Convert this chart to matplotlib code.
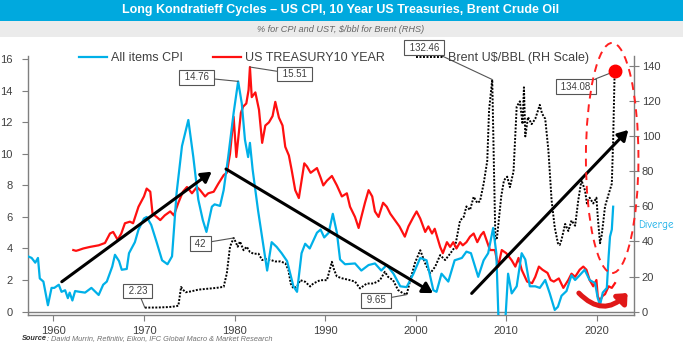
import matplotlib
matplotlib.use("Agg")
import matplotlib.pyplot as plt
from matplotlib.patches import Ellipse, FancyArrowPatch, Rectangle
import numpy as np

plt.rcParams['font.family'] = ['Liberation Sans', 'DejaVu Sans']

# ---------------- data ----------------
cpi_t = [1957.2,1957.6,1958.0,1958.3,1958.5,1958.9,1959.4,1959.8,1960.1,1960.6,1960.9,1961.3,1961.6,1961.8,
         1962.1,1962.4,1962.9,1963.5,1964.2,1965.0,1965.5,1965.9,1966.5,1966.8,1967.25,1967.55,1968.1,1968.35,
         1969.0,1969.4,1970.0,1970.3,1970.8,1971.4,1972.0,1972.6,1973.1,1973.6,1974.2,1974.9,1975.45,1976.0,
         1976.5,1976.9,1977.5,1977.8,1978.4,1978.8,1979.3,1979.9,1980.4,1980.8,1981.15,1981.5,1981.7,1982.0,
         1982.6,1983.2,1983.6,1984.1,1984.65,1985.2,1985.8,1986.5,1986.9,1987.4,1987.8,1988.3,1989.1,1989.5,
         1989.9,1990.4,1990.85,1991.3,1991.65,1992.2,1993.3,1994.0,1994.8,1995.5,1996.2,1996.8,1997.55,1998.3,
         1999.0,1999.75,2000.5,2001.2,2001.95,2002.3,2002.85,2003.6,2004.3,2005.1,2005.6,2006.1,2006.9,2007.5,
         2008.0,2008.55,2008.9,2009.2,2009.85,2010.2,2010.6,2011.15,2011.7,2012.1,2012.6,2013.2,2013.7,2014.3,
         2014.8,2015.35,2015.7,2016.1,2016.65,2017.2,2017.6,2018.1,2018.65,2019.2,2019.8,2020.1,2020.35,2020.65,
         2021.1,2021.3,2021.45,2021.65,2021.8]
cpi_v = [3.5,3.4,3.1,3.4,2.1,1.9,0.4,1.5,1.5,1.7,1.25,1.35,0.85,1.2,
         0.7,1.3,1.25,1.2,1.5,1.05,1.7,1.9,2.85,3.6,3.2,2.65,2.7,3.7,
         4.4,5.2,5.9,6.0,5.5,4.4,3.25,3.0,3.5,7.5,10.5,12.15,9.8,7.1,
         5.8,5.05,6.65,6.8,6.7,7.7,9.8,12.6,14.6,13.2,10.9,9.8,10.7,9.0,
         6.4,4.1,2.6,4.4,4.1,3.7,3.2,1.6,1.25,3.7,4.3,4.0,5.0,5.2,
         4.7,5.0,6.2,5.0,3.3,3.0,3.05,2.6,2.95,3.05,2.6,2.95,2.4,1.6,
         1.55,2.4,3.4,3.25,1.35,1.25,2.4,1.9,3.25,3.4,3.8,3.7,2.2,3.25,
         3.7,5.3,3.7,-1.5,-1.0,2.4,1.15,1.6,3.7,3.3,1.6,1.6,1.5,2.0,
         1.15,0.1,0.3,1.0,1.3,2.3,2.0,2.3,2.65,2.0,1.8,0.85,0.4,1.2,
         1.5,3.5,4.75,5.2,6.65]

ust_t = [1962.2,1962.5,1962.8,1963.3,1964.05,1965.0,1965.7,1966.25,1966.6,1967.1,1967.5,1967.9,1968.45,1968.8,
         1969.4,1970.0,1970.3,1970.7,1970.95,1971.4,1971.8,1972.3,1972.9,1973.3,1973.8,1974.3,1974.75,1975.3,
         1975.85,1976.2,1976.75,1977.1,1977.7,1978.2,1978.8,1979.15,1979.5,1979.9,1980.2,1980.4,1980.7,1980.95,
         1981.3,1981.55,1981.7,1981.9,1982.3,1982.7,1983.05,1983.4,1983.8,1984.2,1984.5,1984.9,1985.3,1985.6,
         1986.0,1986.3,1986.7,1987.1,1987.4,1987.7,1988.0,1988.4,1989.1,1989.5,1989.8,1990.2,1990.75,1991.3,
         1991.85,1992.4,1992.75,1993.3,1993.7,1994.0,1994.4,1994.8,1995.2,1995.5,1995.9,1996.4,1996.8,1997.2,
         1997.7,1998.2,1998.8,1999.2,1999.75,2000.1,2000.5,2001.05,2001.4,2001.8,2002.1,2002.7,2003.0,2003.45,
         2003.8,2004.15,2004.5,2004.9,2005.2,2005.6,2006.0,2006.4,2006.8,2007.2,2007.5,2007.9,2008.2,2008.75,
         2009.1,2009.5,2010.0,2010.6,2011.0,2011.35,2011.7,2012.3,2012.85,2013.2,2013.6,2014.0,2014.55,2014.9,
         2015.25,2015.8,2016.3,2016.85,2017.2,2017.6,2018.1,2018.5,2018.85,2019.2,2019.6,2019.95,2020.1,2020.35,
         2020.65,2020.9,2021.3,2021.65,2022.0]
ust_v = [3.9,3.85,3.9,4.0,4.1,4.2,4.35,4.95,5.05,4.55,4.95,5.6,5.7,5.6,
         6.65,7.3,7.8,7.6,6.2,6.0,5.8,6.1,6.35,6.1,6.9,7.6,7.9,7.5,
         7.9,7.7,7.3,7.5,7.6,8.1,8.65,8.8,10.0,12.35,9.8,10.9,12.6,13.0,
         13.2,14.05,15.51,13.6,13.9,12.8,10.7,11.8,12.0,12.4,13.3,12.3,11.8,10.45,
         9.9,9.0,7.7,7.2,8.3,9.4,9.2,8.8,9.1,8.5,8.0,8.3,8.6,8.0,
         7.3,7.5,6.65,6.0,5.3,6.0,6.9,7.7,7.3,6.35,6.0,6.9,6.65,6.2,
         5.8,5.4,4.75,5.4,6.0,6.35,5.9,5.05,5.4,4.95,5.25,4.1,3.7,4.4,
         4.1,4.4,4.0,4.4,4.2,4.4,4.75,4.95,4.4,4.85,5.05,4.4,3.9,3.9,
         2.85,3.9,3.7,3.25,2.85,3.4,2.65,1.9,1.8,2.2,2.85,2.65,2.45,2.0,
         1.9,2.1,1.5,2.0,2.4,2.2,2.65,2.85,2.65,2.0,1.6,2.0,0.95,0.7,
         1.0,1.1,1.6,1.5,1.8]

oil_t = [1970.1,1971.5,1972.5,1973.1,1973.8,1974.1,1974.3,1974.6,1975.2,1976.0,1977.0,1978.0,1978.8,1979.15,
         1979.5,1979.9,1980.1,1980.35,1980.6,1981.0,1981.35,1981.7,1982.1,1982.65,1983.05,1983.4,1984.0,1984.5,
         1985.05,1985.6,1985.95,1986.2,1986.5,1986.9,1987.25,1987.8,1988.35,1988.7,1989.45,1990.2,1990.75,1991.0,
         1991.3,1991.85,1992.6,1993.3,1993.85,1994.6,1995.35,1996.05,1996.6,1996.95,1997.5,1998.05,1998.6,1999.0,
         1999.4,1999.9,2000.5,2001.05,2001.6,2002.15,2002.7,2003.25,2003.8,2004.35,2004.9,2005.3,2005.6,2006.0,
         2006.4,2006.8,2007.1,2007.5,2007.9,2008.1,2008.45,2008.65,2008.8,2008.95,2009.45,2009.75,2010.1,2010.4,
         2010.8,2011.15,2011.5,2011.8,2011.95,2012.1,2012.4,2012.8,2013.2,2013.7,2013.95,2014.3,2014.65,2015.0,
         2015.35,2015.7,2015.9,2016.1,2016.5,2016.85,2017.2,2017.6,2017.95,2018.3,2018.7,2018.9,2019.2,2019.6,
         2019.95,2020.1,2020.35,2020.55,2020.9,2021.3,2021.65,2021.8,2021.95]
oil_v = [2.23,2.3,2.5,2.7,3.3,14.0,12.5,11.0,11.5,12.5,13.0,13.5,14.1,21.8,
         37.0,42.0,40.0,37.0,40.0,35.0,37.0,34.0,33.0,33.0,29.4,30.0,29.4,28.6,
         28.6,27.6,23.7,16.0,13.2,14.3,17.9,17.0,14.3,16.0,17.9,17.9,28.4,23.7,
         20.0,19.0,18.1,17.1,13.2,16.0,16.0,17.9,22.7,19.8,17.9,12.3,10.4,9.65,
         17.9,27.5,35.0,27.5,21.8,25.6,32.2,29.4,33.0,37.0,52.0,54.0,60.0,58.0,
         65.5,62.0,63.0,73.0,86.0,115.0,132.46,79.0,41.0,41.0,66.0,75.0,77.0,71.0,
         80.0,117.0,120.0,107.0,128.0,100.0,111.0,107.0,110.0,118.0,113.0,110.0,92.0,63.6,
         48.0,39.0,38.0,41.0,50.0,46.0,52.0,49.0,63.6,75.0,69.0,61.7,65.0,61.7,
         65.0,54.0,39.0,44.0,60.0,67.0,73.0,98.0,134.08]

left_ticks = [0, 2, 4, 6, 8, 10, 12, 14, 16]
right_ticks = [0, 20, 40, 60, 80, 100, 120, 140]
year_ticks = [1960, 1970, 1980, 1990, 2000, 2010, 2020]

# ---------------- figure ----------------
W, H = 683, 352
fig = plt.figure(figsize=(W / 100, H / 100), dpi=100)

def px(x, y):
    return x / W, 1 - y / H

# header banner
fig.add_artist(Rectangle((0, 1 - 21 / H), 1, 21 / H, transform=fig.transFigure,
                         facecolor='#00A9DE', edgecolor='none', zorder=0))
fig.add_artist(Rectangle((0, 1 - 37 / H), 1, 16 / H, transform=fig.transFigure,
                         facecolor='#EBEBEB', edgecolor='none', zorder=0))
fig.text(*px(341, 10.5), "Long Kondratieff Cycles \u2013 US CPI, 10 Year US Treasuries, Brent Crude Oil",
         ha='center', va='center', color='white', fontsize=9, fontweight='bold')
fig.text(*px(341, 29), "% for CPI and UST, $/bbl for Brent (RHS)", ha='center', va='center',
         color='#666666', fontsize=6.6, style='italic')

ax = fig.add_axes([28 / W, 1 - 315 / H, (634 - 28) / W, (315 - 56) / H])
ax2 = ax.twinx()

gray = '#7F7F7F'
txtc = '#404040'

ax.set_xlim(1957.2, 2024.1)
ax.set_ylim(-0.22, 16.21)
ax2.set_ylim(-0.22 * 9, 16.21 * 9)

ax.plot(cpi_t, cpi_v, color='#00B0E8', lw=1.6, zorder=4, label='All items CPI')
ax.plot(ust_t, ust_v, color='#FF1010', lw=1.6, zorder=3, label='US TREASURY10 YEAR')
l_oil, = ax2.plot(oil_t, oil_v, color='black', lw=1.4, ls=(0, (1, 0.8)), zorder=2,
                  label='Brent U$/BBL (RH Scale)')
ax.axhline(0, color=gray, lw=1.0, zorder=1)

for a in (ax, ax2):
    a.set_facecolor('none')
    a.spines['top'].set_visible(False)
ax.spines['right'].set_visible(False)
ax2.spines['left'].set_visible(False)
ax2.spines['bottom'].set_visible(False)
for s in ('left', 'bottom'):
    ax.spines[s].set_color(gray)
    ax.spines[s].set_linewidth(1.0)
ax2.spines['right'].set_color(gray)
ax2.spines['right'].set_linewidth(1.0)
ax.set_zorder(ax2.get_zorder() + 1)

ax.set_yticks(left_ticks)
ax.set_yticklabels([str(t) for t in left_ticks])
ax2.set_yticks(right_ticks)
ax2.set_yticklabels([str(t) for t in right_ticks])
ax.set_xticks(year_ticks)
ax.set_xticklabels([str(t) for t in year_ticks])
ax.tick_params(axis='y', direction='out', length=4, width=0.8, color=gray, labelsize=8,
               labelcolor=txtc, pad=7)
ax.tick_params(axis='x', direction='out', length=4, width=0.8, color=gray, labelsize=8,
               labelcolor=txtc, pad=4)
ax2.tick_params(axis='y', direction='inout', length=7, width=0.8, color=gray, labelsize=8,
                labelcolor=txtc, pad=2)

# legend
h1, lab1 = ax.get_legend_handles_labels()
leg = fig.legend(h1 + [l_oil], lab1 + [l_oil.get_label()], loc='center left',
                 bbox_to_anchor=px(79, 58), ncol=3, frameon=False, fontsize=9,
                 handlelength=2.2, handletextpad=0.35, columnspacing=2.45,
                 borderpad=0, borderaxespad=0)
for t in leg.get_texts():
    t.set_color(txtc)
leg.set_zorder(1)

# callout boxes
bbox = dict(boxstyle='square,pad=0.25', fc='white', ec='#555555', lw=0.8)
aprops = dict(arrowstyle='-', color='#555555', lw=0.8, shrinkA=0, shrinkB=0)

i = int(np.argmax(cpi_v))
ax.annotate(" 14.76 ", xy=(cpi_t[i], cpi_v[i]), xytext=(-30, 3), textcoords='offset points',
            ha='center', va='center', fontsize=7, color=txtc, bbox=bbox, arrowprops=aprops,
            zorder=6, annotation_clip=False)
i = int(np.argmax(ust_v))
ax.annotate(" 15.51 ", xy=(ust_t[i], ust_v[i]), xytext=(32, -5), textcoords='offset points',
            ha='center', va='center', fontsize=7, color=txtc, bbox=bbox, arrowprops=aprops,
            zorder=6, annotation_clip=False)
i = oil_v.index(132.46)
ax2.annotate(" 132.46 ", xy=(oil_t[i], oil_v[i]), xytext=(-49, 23), textcoords='offset points',
             ha='center', va='center', fontsize=7, color=txtc, bbox=bbox, arrowprops=aprops,
             zorder=6, annotation_clip=False)
i = oil_v.index(42.0)
ax2.annotate(" 42 ", xy=(oil_t[i], oil_v[i]), xytext=(-24, -4), textcoords='offset points',
             ha='center', va='center', fontsize=7, color=txtc, bbox=bbox, arrowprops=aprops,
             zorder=6)
i = oil_v.index(2.23)
ax2.annotate(" 2.23 ", xy=(oil_t[i], oil_v[i]), xytext=(-5, 12), textcoords='offset points',
             ha='center', va='center', fontsize=7, color=txtc, bbox=bbox, arrowprops=aprops,
             zorder=6)
i = oil_v.index(9.65)
ax2.annotate(" 9.65 ", xy=(oil_t[i], oil_v[i]), xytext=(-22, -4), textcoords='offset points',
             ha='center', va='center', fontsize=7, color=txtc, bbox=bbox, arrowprops=aprops,
             zorder=6)
i = oil_v.index(134.08)
ax2.plot([oil_t[i]], [oil_v[i] + 3], 'o', color='#FF0000', ms=9, zorder=7, clip_on=False)
ax2.annotate(" 134.08 ", xy=(oil_t[i], oil_v[i] + 3), xytext=(-28, -11), textcoords='offset points',
             ha='center', va='center', fontsize=7, color=txtc, bbox=bbox, arrowprops=aprops,
             zorder=6, annotation_clip=False)

# trend arrows (left-axis units)
arrow_kw = dict(arrowstyle='-|>,head_length=0.6,head_width=0.35', color='black', lw=2.2,
                shrinkA=0, shrinkB=0, mutation_scale=10)
for (x0, y0, x1, y1) in [(1960.93, 1.89, 1977.48, 8.87),
                         (1979.06, 9.04, 2001.91, 1.17),
                         (2006.18, 1.15, 2023.47, 11.52)]:
    ax.annotate('', xy=(x1, y1), xytext=(x0, y0), arrowprops=arrow_kw, zorder=8,
                annotation_clip=False)

# dashed ellipse
ell = Ellipse((2021.69, 9.74), 5.8, 14.6, fill=False, ec='#FF2020', lw=1.4, ls=(0, (4, 3)),
              clip_on=False, zorder=9)
ax.add_patch(ell)

# red curved arrow
carc = FancyArrowPatch((2017.8, 1.3), (2023.6, 1.3), connectionstyle='arc3,rad=0.55',
                       arrowstyle='-|>,head_length=0.5,head_width=0.45', color='#E01818',
                       lw=3.6, mutation_scale=10, clip_on=False, zorder=9)
ax.add_patch(carc)

fig.text(*px(638, 225), "Diverge", ha='left', va='center', color='#1BB0E8', fontsize=8,
         family=['Comic Neue', 'DejaVu Sans'])

# source
t1 = fig.text(*px(22, 339), "Source", ha='left', va='center', color='#333333', fontsize=5.3,
              style='italic', fontweight='bold')
ax.annotate(": David Murrin, Refinitiv, Eikon, IFC Global Macro & Market Research",
            xy=(1, 0.5), xycoords=t1, va='center', ha='left', color='#707070', fontsize=5.3,
            style='italic', annotation_clip=False)

fig.savefig('out.png', dpi=100)
